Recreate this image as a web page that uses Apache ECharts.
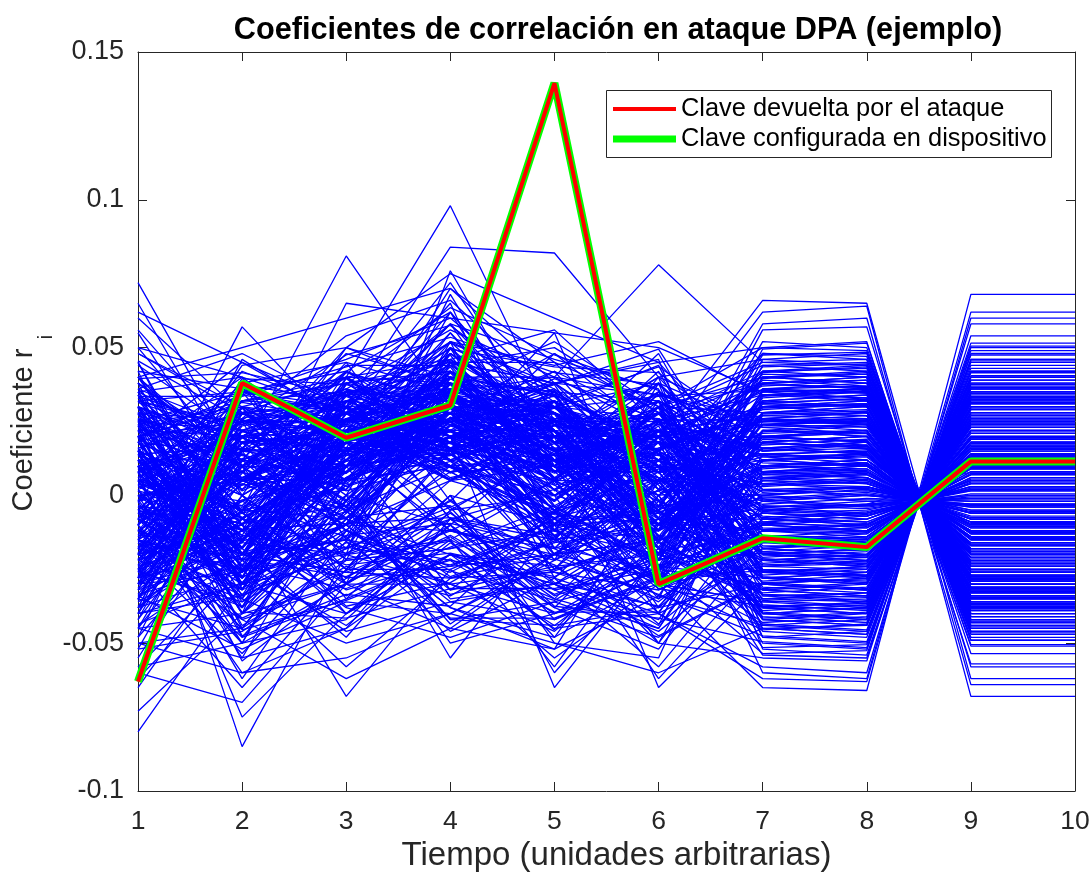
<!DOCTYPE html>
<html>
<head>
<meta charset="utf-8">
<script src="https://cdn.jsdelivr.net/npm/echarts@6/dist/echarts.min.js"></script>
<style>
html,body{margin:0;padding:0;background:#fff;}
#chart{width:1091px;height:872px;}
</style>
</head>
<body>
<div id="chart"></div>
<script>
// ---- DATA ----
const timePoints = [1, 2, 3, 4, 5, 6, 7, 8, 9, 10];
const xTicks = [1, 2, 3, 4, 5, 6, 7, 8, 9, 10];
const yTicks = [-0.1, -0.05, 0, 0.05, 0.1, 0.15];
// key returned by the attack (= key configured in device)
const attackKey = [-0.063, 0.038, 0.0195, 0.0305, 0.1395, -0.0300, -0.0145, -0.0175, 0.0115, 0.0115];
const deviceKey = [-0.063, 0.038, 0.0195, 0.0305, 0.1395, -0.0300, -0.0145, -0.0175, 0.0115, 0.0115];
// other key hypotheses, values in thousandths (x 1e-3)
const otherKeys = [
[72,10,35,20,5,-10,30,28,-25,-25],
[-80,-30,10,15,-20,5,-40,-38,35,35],
[20,-85,-20,10,30,15,-5,-3,8,8],
[-10,57,20,40,10,25,15,18,-20,-20],
[5,15,81,30,20,-5,10,12,-10,-10],
[-20,-10,-68,-25,-10,20,35,33,-30,-30],
[10,20,40,98,25,10,-20,-22,18,18],
[-5,25,30,84,82,40,25,26,-28,-28],
[15,-20,10,20,-65,-20,0,3,-5,-5],
[-15,5,25,35,40,78,45,44,-42,-42],
[0,-25,0,-10,20,-65,-30,-32,30,30],
[30,10,20,15,10,20,66,65,-62,-62],
[-25,-15,5,10,-15,-30,-65,-66,68,68],
[20,30,10,25,-5,15,62,64,-68,-68],
[-30,-20,-10,5,10,-40,-62,-63,60,60],
[65,5,10,30,15,0,20,21,-18,-18],
[-73,-40,-5,10,0,-10,5,7,-9,-9],
[62,45,25,20,30,10,-10,-12,10,10],
[-60,-70,-30,0,-10,20,25,24,-25,-25],
[55,0,50,75,60,45,50,52,-57,-57],
[-45,-55,-45,-20,-30,-50,-55,-56,54,54],
[40,50,60,70,45,30,40,42,-44,-44],
[-50,-60,-55,-40,-50,-60,-45,-47,46,46],
[10,-5,65,60,55,50,35,36,-38,-38],
[-35,10,-20,76,15,35,-20,-18,14,14],
[12,-8,15,22,5,-12,8,10,-12,-12],
[-18,22,3,14,-6,9,-15,-14,11,11],
[25,-30,18,-4,12,-25,22,20,-24,-24],
[-5,14,-12,30,18,6,-28,-30,26,26],
[33,5,28,10,-15,18,4,2,-6,-6],
[-28,-12,8,26,30,-8,12,14,-17,-17],
[8,35,-6,18,2,28,-6,-8,4,4],
[-40,18,22,-12,-22,4,30,31,-35,-35],
[18,-22,-15,35,8,-18,-35,-36,32,32],
[-12,28,30,5,25,12,18,16,-20,-20],
[45,-15,12,28,-8,30,-22,-20,16,16],
[-22,-35,20,40,15,-22,40,38,-40,-40],
[3,8,-25,16,35,14,-12,-10,8,8],
[28,20,35,-8,-18,-5,28,27,-30,-30],
[-35,-5,-8,22,10,25,-40,-42,38,38],
[15,40,14,48,22,-10,6,5,-9,-9],
[-8,-28,26,8,-12,35,-18,-16,12,12],
[38,12,-18,30,28,8,14,12,-15,-15],
[-15,32,40,12,-25,-15,34,35,-38,-38],
[22,-40,5,38,20,22,-8,-10,6,6],
[-42,5,18,-15,5,-30,20,22,-25,-25],
[6,25,-30,45,38,15,-25,-26,22,22],
[30,-18,32,18,-2,40,2,0,-3,-3],
[-25,15,10,55,12,-20,-32,-30,28,28],
[48,30,25,5,18,28,38,40,-45,-45],
[-10,-45,-2,28,42,2,-15,-17,14,14],
[20,8,45,35,-20,-28,25,26,-28,-28],
[-30,38,-15,20,30,18,-5,-3,0,0],
[12,-12,22,62,5,32,-45,-44,42,42],
[-48,22,35,25,-10,-8,10,8,-12,-12],
[35,-25,-10,15,48,20,30,32,-33,-33],
[-2,42,28,-5,15,-38,-10,-12,10,10],
[26,2,38,42,25,12,48,46,-48,-48],
[-38,-8,12,32,-15,25,-30,-28,25,25],
[8,18,-22,50,35,-18,16,18,-21,-21],
[42,-32,18,8,10,42,-20,-22,19,19],
[-20,12,48,38,-28,5,3,5,-8,-8],
[16,28,5,18,55,-25,32,30,-34,-34],
[-32,-20,30,58,8,15,-50,-52,49,49],
[50,8,-5,25,-5,30,12,10,-14,-14],
[-6,-50,15,12,22,-12,22,24,-27,-27],
[32,35,42,30,15,48,-14,-12,9,9],
[-45,0,-25,15,32,8,42,43,-46,-46],
[5,-15,25,65,-12,-5,-38,-40,36,36],
[25,22,8,40,40,22,8,6,-10,-10],
[-15,-38,35,-8,2,-30,-24,-22,18,18],
[38,15,18,35,28,15,36,37,-40,-40],
[-28,30,-12,28,-22,38,-2,0,-4,-4],
[10,-28,28,72,20,-15,18,20,-22,-22],
[-52,10,5,20,12,25,-28,-30,27,27],
[18,45,30,10,-8,-22,26,24,-26,-26],
[-8,-20,38,45,45,10,-42,-40,37,37],
[40,5,-8,30,8,35,15,17,-19,-19],
[-35,25,22,5,25,-10,52,50,-49,-49],
[2,-35,12,52,-18,20,-8,-6,3,3],
[30,18,32,20,35,-32,-18,-20,16,16],
[-22,-8,-18,38,15,30,28,30,-32,-32],
[48,28,15,-12,5,5,-35,-34,30,30],
[-12,8,42,25,38,45,6,4,-7,-7],
[22,-45,0,62,22,-20,44,45,-47,-47],
[-40,35,28,15,-25,12,-12,-14,12,12],
[12,12,50,40,12,-8,20,18,-21,-21],
[-18,-25,8,28,48,28,-26,-24,20,20],
[35,40,-15,8,-10,-28,10,12,-14,-14],
[-30,-5,25,50,18,18,38,36,-39,-39],
[8,25,35,32,30,38,-48,-50,46,46],
[45,-20,20,18,-20,2,0,2,-5,-5],
[-25,20,-5,68,10,-15,24,22,-23,-23],
[15,-40,40,22,42,25,-20,-18,13,13],
[-5,30,10,45,5,-35,32,34,-36,-36],
[28,-10,30,12,25,15,-4,-6,2,2],
[-45,15,15,35,-12,32,16,14,-17,-17],
[5,38,45,-2,32,-5,-32,-34,31,31],
[38,-30,-10,42,18,40,46,48,-51,-51],
[-15,5,32,28,-5,-22,-10,-8,5,5],
[10,20,15,30,10,5,12,13,-15,-15],
[-20,-10,20,25,0,15,-6,-5,2,2],
[22,5,-5,20,20,-10,24,25,-29,-29],
[-8,25,25,38,12,20,-16,-18,14,14],
[30,-15,10,15,28,0,4,6,-9,-9],
[-30,10,30,10,-15,25,34,32,-33,-33],
[5,-5,2,42,22,-5,-28,-26,24,24],
[18,28,25,25,5,18,14,15,-18,-18],
[-12,-22,12,32,32,10,-20,-21,17,17],
[25,10,35,18,-10,-15,28,29,-31,-31],
[-22,18,-2,35,18,28,2,0,-2,-2],
[12,-30,20,22,8,8,-38,-36,33,33],
[-2,15,28,48,28,-20,18,20,-24,-24],
[32,22,5,28,15,22,-12,-11,7,7],
[-28,-18,18,15,22,5,26,28,-30,-30],
[8,32,38,30,-18,15,-24,-25,21,21],
[20,-5,15,40,35,32,8,9,-12,-12],
[-35,20,22,22,2,-12,40,41,-43,-43],
[0,8,-10,52,20,12,-2,-4,0,0],
[28,-25,30,10,12,35,20,22,-25,-25],
[-15,30,12,32,25,-25,-30,-32,29,29],
[15,-12,42,20,-8,18,10,11,-13,-13],
[-25,5,8,45,38,2,30,28,-29,-29],
[35,18,22,15,10,28,-18,-16,13,13],
[-8,-32,35,38,15,10,36,35,-37,-37],
[20,25,0,25,28,-8,-8,-9,4,4],
[-40,12,25,30,-2,22,16,17,-20,-20],
[10,-20,15,42,30,5,-40,-38,35,35],
[25,35,30,12,5,38,6,7,-11,-11],
[-20,-2,18,55,18,-18,22,21,-23,-23],
[40,10,8,20,25,12,-26,-27,23,23],
[-10,22,32,35,-12,25,42,40,-41,-41],
[5,-38,20,28,15,-2,-14,-15,10,10],
[30,15,40,38,35,15,30,31,-34,-34],
[-32,28,5,18,8,30,-4,-3,-1,-1],
[15,0,22,58,22,-30,12,14,-16,-16],
[-5,-15,10,22,-5,8,-34,-33,30,30],
[22,32,35,32,30,20,24,23,-26,-26],
[-18,8,28,40,12,-10,-22,-24,20,20],
[35,-8,15,25,20,32,8,10,-14,-14],
[-28,18,20,30,28,2,48,47,-46,-46],
[10,-28,38,15,0,18,-44,-46,43,43],
[-12,12,5,48,25,25,16,18,-22,-22],
[28,25,25,35,15,-15,-6,-7,3,3],
[-22,-10,32,20,38,12,34,33,-35,-35],
[8,20,15,45,8,28,-16,-14,11,11],
[18,-20,28,28,22,-5,26,25,-28,-28],
[-38,28,12,38,15,20,-28,-29,26,26],
[0,5,22,25,32,10,4,3,-6,-6],
[32,-5,35,42,12,22,38,39,-42,-42],
[-15,-25,-20,-30,-40,-25,-10,-12,9,9],
[20,-40,-30,-45,-20,10,18,16,-19,-19],
[-30,10,-35,-20,-45,-40,-22,-20,15,15],
[5,-50,10,-35,-30,-45,5,4,-8,-8],
[-40,-30,-40,-10,-35,0,32,34,-37,-37],
[15,0,-25,-25,-55,-30,-36,-35,32,32],
[-10,-60,-45,-5,0,-50,14,12,-15,-15],
[25,-20,-15,-30,-25,5,-46,-48,45,45],
[-50,-45,0,-50,-40,-20,0,-2,-3,-3],
[-20,15,-30,0,-50,-55,22,20,-22,-22],
[10,-35,-50,-40,-20,-35,-12,-13,9,9],
[-35,-45,-20,-15,-58,-10,28,30,-30,-30],
[0,-55,5,-55,-10,-62,-24,-23,19,19],
[-55,0,-40,-20,-35,-45,10,9,-12,-12],
[30,-30,-10,-38,-48,0,-54,-55,50,50],
[-25,-65,-25,5,-5,-30,36,38,-40,-40],
[40,-10,-30,-10,-38,-52,-8,-10,7,7],
[-62,-25,-58,-28,-20,-15,20,18,-21,-21],
[-45,-40,-5,-42,-44,-38,-30,-28,25,25],
[15,-48,-35,0,-60,-20,46,44,-44,-44],
[-5,-20,-15,-22,-28,-58,-16,-15,12,12],
[-58,-50,-30,-8,-15,-10,56,57,-58,-58],
[-65,-15,15,-32,-5,-40,-58,-60,58,58],
[8,-75,-40,-15,-32,-25,2,3,-6,-6],
[-20,-42,-62,-45,-52,5,-42,-44,40,40],
[12,5,20,10,0,15,-60,-62,62,62],
[-10,20,25,30,15,-5,58,60,-64,-64],
[3,-12,18,28,12,6,-3,-1,-2,-2],
[-14,6,24,16,20,-6,9,11,-13,-13],
[20,-6,2,36,-4,14,-21,-19,16,16],
[-26,18,16,24,26,22,27,26,-27,-27],
[9,-18,30,6,14,-16,-33,-31,28,28],
[16,26,-4,32,24,4,13,14,-17,-17],
[-32,-4,14,44,6,30,-9,-7,4,4],
[26,12,26,22,-12,-20,33,35,-36,-36],
[-6,-26,6,18,34,18,-17,-18,13,13],
[36,2,22,30,18,8,21,22,-24,-24],
[-20,24,34,12,-6,26,-37,-39,35,35],
[4,-2,-14,40,28,-12,7,6,-10,-10],
[24,30,20,26,10,34,-27,-25,22,22],
[-36,-16,26,34,22,-4,39,37,-38,-38],
[14,16,10,14,-16,12,-5,-7,3,3],
[-16,-34,22,46,16,20,17,19,-22,-22],
[32,24,36,20,32,-18,-43,-41,39,39],
[-2,6,4,28,2,16,25,27,-29,-29],
[18,-24,28,38,26,26,-11,-12,8,8],
[-24,14,-8,24,12,-24,31,30,-33,-33],
[40,-6,16,8,20,20,1,3,-6,-6],
[-10,36,24,52,36,6,-19,-21,17,17],
[12,-16,40,16,-2,30,45,46,-45,-45],
[-42,22,8,30,24,-14,-29,-27,24,24],
[28,6,18,42,8,24,11,10,-13,-13],
[-8,-30,30,20,30,-2,-39,-37,34,34],
[22,20,-2,34,14,38,23,24,-26,-26],
[-30,-12,20,14,-8,10,-7,-9,5,5],
[6,28,32,46,26,-16,35,36,-38,-38],
[34,-22,6,26,36,14,-23,-21,19,19],
[-18,10,26,36,4,28,15,16,-18,-18],
[14,-8,14,22,22,-8,-45,-47,44,44],
[-38,30,38,16,12,16,29,31,-32,-32],
[26,14,2,50,-10,22,-1,1,-4,-4],
[-4,-20,22,30,28,4,41,40,-43,-43],
[20,34,28,18,18,32,-15,-13,10,10],
[-26,-2,12,40,34,-10,19,17,-20,-20],
[38,10,34,24,6,12,-31,-33,29,29],
[-14,20,16,14,20,24,7,8,-11,-11],
[10,-36,-6,38,10,-26,27,28,-31,-31],
[-22,26,36,28,-14,8,-35,-33,30,30],
[30,0,20,34,30,26,13,11,-14,-14],
[-34,-14,6,20,16,-6,-19,-17,14,14],
[2,16,44,44,24,20,37,39,-41,-41],
[24,-10,10,10,-4,-22,-9,-11,6,6],
[-10,32,30,32,38,34,23,21,-24,-24],
[16,-26,18,26,12,0,-41,-43,40,40],
[-28,4,-10,48,22,18,5,4,-8,-8],
[36,22,24,16,26,-14,31,33,-35,-35],
[-6,-8,34,36,0,26,-25,-27,23,23],
[-12,-22,-10,-12,-20,-15,-2,0,-3,-3],
[8,-30,-22,-18,-12,-28,10,12,-16,-16],
[-22,-6,-28,-6,-30,-8,-22,-24,18,18],
[14,-40,-12,-24,-8,-34,18,20,-23,-23],
[-30,-26,-4,-32,-24,-20,-32,-34,31,31],
[0,-14,-34,-14,-38,-2,26,24,-27,-27],
[-40,-34,-18,-2,-26,-32,-14,-16,12,12],
[26,-20,-26,-28,-16,-12,34,36,-39,-39],
[-16,-48,-8,-36,-42,-24,-28,-26,22,22],
[4,-10,-40,-20,-30,-42,6,8,-12,-12],
[-26,-36,-16,-26,-8,-6,-40,-42,38,38],
[18,-28,-2,-42,-36,-26,20,18,-21,-21],
[-44,-20,-26,-12,-18,-36,-8,-6,2,2],
[-8,-42,-30,-30,-46,-16,30,32,-34,-34],
[30,-16,-20,-8,-32,-46,-18,-20,15,15],
[-34,-52,-36,-40,-22,-4,38,40,-42,-42],
[10,-24,-44,-16,-40,-30,-36,-38,33,33],
[-18,-32,-14,-46,-28,-40,12,10,-14,-14],
[-48,-8,-32,-22,-44,-18,-26,-24,20,20],
[20,-44,-24,-34,-14,-50,-4,-2,-1,-1],
[-4,-18,-48,-8,-34,-22,24,26,-28,-28],
[-38,-26,-10,-38,-52,-34,-44,-42,39,39],
[12,-56,-28,-24,-20,-8,16,14,-17,-17],
[-24,-12,-38,-48,-36,-48,-30,-32,28,28],
[24,-34,-18,-4,-42,-28,42,44,-46,-46],
[-52,-46,-22,-18,-6,-24,-12,-10,7,7],
[-2,-62,-12,-28,-26,-38,8,6,-9,-9],
[-58,-22,-46,-36,-30,-14,-38,-40,36,36],
[34,-38,-8,-20,-24,-44,28,27,-29,-29],
[-12,-50,-42,-10,-48,-28,-6,-8,5,5],
[44,20,36,56,40,34,26,28,-31,-31],
[-28,34,46,60,30,44,-26,-28,24,24],
[50,40,28,44,50,28,44,42,-43,-43],
[-18,26,54,66,34,18,-48,-46,42,42],
[36,48,30,52,44,52,34,35,-36,-36],
[56,16,42,62,20,40,-52,-54,48,48],
[-8,44,50,36,52,30,50,49,-49,-49],
[42,36,16,70,38,46,-42,-44,40,40],
[60,28,40,46,56,24,40,38,-41,-41],
[-20,46,24,58,46,36,-34,-36,33,33],
[1.5,-7.5,11.5,19.5,8.5,-3.5,-1.5,0.5,-3.5,-3.5],
[-9.5,12.5,-3.5,26.5,15.5,11.5,3.5,4.5,-7.5,-7.5],
[13.5,-17.5,21.5,9.5,-6.5,-9.5,-4.5,-6.5,2.5,2.5],
[-21.5,3.5,7.5,31.5,23.5,17.5,11.5,13.5,-16.5,-16.5],
[7.5,21.5,27.5,15.5,3.5,-19.5,-9.5,-10.5,5.5,5.5],
[-3.5,-9.5,15.5,37.5,29.5,7.5,17.5,16.5,-19.5,-19.5],
[23.5,9.5,-7.5,23.5,11.5,21.5,-13.5,-14.5,9.5,9.5],
[-15.5,-21.5,31.5,11.5,-11.5,1.5,21.5,23.5,-25.5,-25.5],
[17.5,15.5,5.5,33.5,21.5,-13.5,-17.5,-15.5,11.5,11.5],
[-27.5,27.5,19.5,21.5,7.5,25.5,25.5,24.5,-27.5,-27.5],
[11.5,-13.5,37.5,27.5,33.5,-1.5,-21.5,-23.5,19.5,19.5],
[-7.5,5.5,9.5,43.5,-3.5,15.5,29.5,30.5,-32.5,-32.5],
[29.5,-27.5,23.5,5.5,17.5,29.5,-25.5,-24.5,21.5,21.5],
[-19.5,19.5,-1.5,35.5,27.5,-21.5,33.5,35.5,-36.5,-36.5],
[5.5,-3.5,33.5,17.5,13.5,9.5,-29.5,-31.5,27.5,27.5],
[-33.5,11.5,13.5,29.5,-9.5,19.5,37.5,36.5,-38.5,-38.5],
[19.5,31.5,25.5,39.5,25.5,3.5,-33.5,-35.5,31.5,31.5],
[-11.5,-31.5,3.5,13.5,31.5,-7.5,41.5,43.5,-44.5,-44.5],
[27.5,1.5,17.5,47.5,1.5,23.5,-37.5,-36.5,33.5,33.5],
[-23.5,23.5,29.5,7.5,19.5,13.5,1.5,2.5,-5.5,-5.5],
[9.5,-11.5,-9.5,25.5,37.5,-15.5,-0.5,-1.5,-1.5,-1.5],
[-1.5,17.5,21.5,41.5,5.5,27.5,5.5,7.5,-10.5,-10.5],
[15.5,-23.5,13.5,19.5,-13.5,5.5,-7.5,-5.5,1.5,1.5],
[-29.5,7.5,35.5,33.5,15.5,-11.5,9.5,10.5,-14.5,-14.5],
[21.5,13.5,1.5,11.5,23.5,31.5,-11.5,-12.5,7.5,7.5],
[-13.5,-15.5,25.5,45.5,9.5,9.5,13.5,15.5,-18.5,-18.5],
[3.5,25.5,11.5,23.5,35.5,-5.5,-15.5,-17.5,12.5,12.5],
[-25.5,-5.5,39.5,15.5,-1.5,21.5,19.5,18.5,-22.5,-22.5],
[31.5,19.5,7.5,37.5,13.5,-23.5,-19.5,-20.5,15.5,15.5],
[-5.5,-25.5,19.5,27.5,27.5,15.5,23.5,25.5,-28.5,-28.5],
[13.5,3.5,29.5,9.5,-7.5,1.5,-23.5,-22.5,17.5,17.5],
[-17.5,29.5,-5.5,39.5,21.5,-17.5,27.5,28.5,-31.5,-31.5],
[25.5,-19.5,15.5,21.5,39.5,25.5,-27.5,-29.5,25.5,25.5],
[-9.5,9.5,41.5,31.5,3.5,11.5,31.5,32.5,-34.5,-34.5],
[7.5,-29.5,9.5,49.5,17.5,-9.5,-31.5,-29.5,26.5,26.5],
[-31.5,15.5,23.5,17.5,29.5,33.5,35.5,34.5,-37.5,-37.5],
[17.5,5.5,-3.5,29.5,11.5,-19.5,-35.5,-37.5,32.5,32.5],
[-3.5,-17.5,27.5,35.5,-5.5,5.5,39.5,41.5,-42.5,-42.5],
[33.5,21.5,17.5,13.5,25.5,19.5,-39.5,-41.5,37.5,37.5],
[-21.5,-1.5,5.5,41.5,33.5,-3.5,43.5,44.5,-46.5,-46.5],
[1.5,-33.5,-13.5,-9.5,-17.5,-25.5,-43.5,-45.5,41.5,41.5],
[-7.5,-11.5,-23.5,-19.5,-27.5,-11.5,47.5,48.5,-50.5,-50.5],
[11.5,-19.5,-7.5,-3.5,-21.5,-33.5,-47.5,-49.5,45.5,45.5],
[-15.5,-27.5,-17.5,-23.5,-11.5,-29.5,-45.5,-43.5,40.5,40.5],
[19.5,-7.5,-29.5,-13.5,-33.5,-19.5,49.5,51.5,-53.5,-53.5],
[-25.5,-37.5,-1.5,-27.5,-15.5,-1.5,-51.5,-50.5,47.5,47.5],
[5.5,-13.5,-19.5,-5.5,-37.5,-41.5,-49.5,-51.5,50.5,50.5],
[-33.5,-23.5,-31.5,-17.5,-3.5,-23.5,-53.5,-52.5,51.5,51.5],
[27.5,-31.5,-11.5,-33.5,-25.5,-13.5,-41.5,-39.5,36.5,36.5],
[-11.5,-41.5,-25.5,-1.5,-29.5,-37.5,-3.5,-4.5,0.5,0.5],
[15.5,-5.5,-37.5,-29.5,-9.5,-5.5,0.5,1.5,-3.5,-3.5],
[-19.5,-53.5,-15.5,-41.5,-41.5,-27.5,-25.5,-27.5,23.5,23.5],
[3.5,-21.5,-27.5,-11.5,-23.5,-47.5,-29.5,-28.5,24.5,24.5],
[-37.5,-15.5,-5.5,-25.5,-35.5,-15.5,-33.5,-34.5,29.5,29.5],
[23.5,-47.5,-33.5,-37.5,-5.5,-31.5,-37.5,-38.5,34.5,34.5],
[-5.5,-3.5,-21.5,-15.5,-45.5,-9.5,-11.5,-9.5,4.5,4.5],
[-43.5,-29.5,-9.5,-7.5,-13.5,-43.5,-15.5,-16.5,11.5,11.5],
[9.5,-39.5,-41.5,-31.5,-31.5,-21.5,-19.5,-18.5,13.5,13.5],
[-27.5,-9.5,-3.5,-43.5,-19.5,-3.5,-21.5,-22.5,16.5,16.5],
[-1.5,-45.5,-35.5,-21.5,-39.5,-39.5,3.5,5.5,-9.5,-9.5],
[33.5,33.5,43.5,53.5,41.5,37.5,7.5,8.5,-12.5,-12.5],
[-35.5,37.5,31.5,49.5,43.5,41.5,15.5,14.5,-16.5,-16.5],
[45.5,25.5,47.5,57.5,31.5,43.5,19.5,21.5,-23.5,-23.5],
[-13.5,39.5,37.5,63.5,47.5,35.5,-1.5,-3.5,1.5,1.5],
[39.5,41.5,33.5,51.5,37.5,49.5,-5.5,-3.5,-0.5,-0.5]
];
const legendLabels = ['Clave devuelta por el ataque', 'Clave configurada en dispositivo'];
const titleText = 'Coeficientes de correlación en ataque DPA (ejemplo)';
const xLabel = 'Tiempo (unidades arbitrarias)';
const yLabelMain = 'Coeficiente r';
const yLabelSub = 'i';

// ---- CHART ----
const FONT = '"Liberation Sans", Arial, Helvetica, sans-serif';
const AX = '#262626';
const chart = echarts.init(document.getElementById('chart'), null, {renderer: 'canvas'});

function toPairs(vals, scale) {
  return timePoints.map((t, i) => [t, vals[i] * scale]);
}

const series = [];
otherKeys.forEach((row, k) => {
  series.push({
    name: 'hyp' + k, type: 'line', data: toPairs(row, 0.001),
    symbol: 'none', silent: true, animation: false, z: 2,
    lineStyle: {color: '#0000FF', width: 1.3}
  });
});
series.push({
  name: legendLabels[1], type: 'line', data: toPairs(deviceKey, 1),
  symbol: 'none', silent: true, animation: false, z: 3,
  lineStyle: {color: '#00FF00', width: 8}
});
series.push({
  name: legendLabels[0], type: 'line', data: toPairs(attackKey, 1),
  symbol: 'none', silent: true, animation: false, z: 4,
  lineStyle: {color: '#FF0000', width: 4}
});

const fmtY = v => String(Math.round(v * 100) / 100);
const axisBase = (pos) => ({
  type: 'value', position: pos,
  axisLine: {show: true, onZero: false, lineStyle: {color: AX, width: 1}},
  axisTick: {show: true, inside: true, length: 9, lineStyle: {color: AX}},
  splitLine: {show: false}
});

const option = {
  backgroundColor: '#ffffff',
  animation: false,
  textStyle: {fontFamily: FONT},
  title: {
    text: titleText, left: 613, top: 10, textAlign: 'center',
    textStyle: {fontFamily: FONT, fontWeight: 'bold', fontSize: 30.7, color: '#000'}
  },
  grid: {left: 138, right: 16, top: 52, bottom: 81, containLabel: false, outerBoundsMode: 'none'},
  xAxis: [Object.assign(axisBase('bottom'), {
    min: xTicks[0], max: xTicks[xTicks.length - 1], interval: 1,
    axisLabel: {show: true, margin: 17, fontSize: 26.5, color: AX, fontFamily: FONT},
    name: xLabel, nameLocation: 'middle', nameGap: 46,
    nameTextStyle: {fontSize: 33, color: AX, fontFamily: FONT, padding: [0, 0, 0, 20]}
  }), Object.assign(axisBase('top'), {
    min: xTicks[0], max: xTicks[xTicks.length - 1], interval: 1,
    axisLabel: {show: false}
  })],
  yAxis: [Object.assign(axisBase('left'), {
    min: yTicks[0], max: yTicks[yTicks.length - 1], interval: 0.05,
    axisLabel: {show: true, margin: 14, fontSize: 27, color: AX, fontFamily: FONT, formatter: fmtY}
  }), Object.assign(axisBase('right'), {
    min: yTicks[0], max: yTicks[yTicks.length - 1], interval: 0.05,
    axisLabel: {show: false}
  })],
  series: series,
  graphic: [
    {type: 'text', x: 24, y: 430, rotation: Math.PI / 2,
     style: {text: yLabelMain, fontSize: 29, fontFamily: FONT, fill: AX, align: 'center', verticalAlign: 'middle'}},
    {type: 'text', x: 46, y: 337, rotation: Math.PI / 2,
     style: {text: yLabelSub, fontSize: 20, fontFamily: FONT, fill: AX, align: 'center', verticalAlign: 'middle'}},
    {type: 'rect', shape: {x: 606.5, y: 90.5, width: 445, height: 67}, z: 10,
     style: {fill: '#ffffff', stroke: AX, lineWidth: 1}},
    {type: 'line', shape: {x1: 613, y1: 109, x2: 676, y2: 109}, z: 11,
     style: {stroke: '#FF0000', lineWidth: 4}},
    {type: 'line', shape: {x1: 613, y1: 139, x2: 676, y2: 139}, z: 11,
     style: {stroke: '#00FF00', lineWidth: 7}},
    {type: 'text', x: 681, y: 109, z: 11,
     style: {text: legendLabels[0], fontSize: 25.4, fontFamily: FONT, fill: '#000', align: 'left', verticalAlign: 'middle'}},
    {type: 'text', x: 681, y: 139, z: 11,
     style: {text: legendLabels[1], fontSize: 25.4, fontFamily: FONT, fill: '#000', align: 'left', verticalAlign: 'middle'}}
  ]
};
chart.setOption(option);
</script>
</body>
</html>
